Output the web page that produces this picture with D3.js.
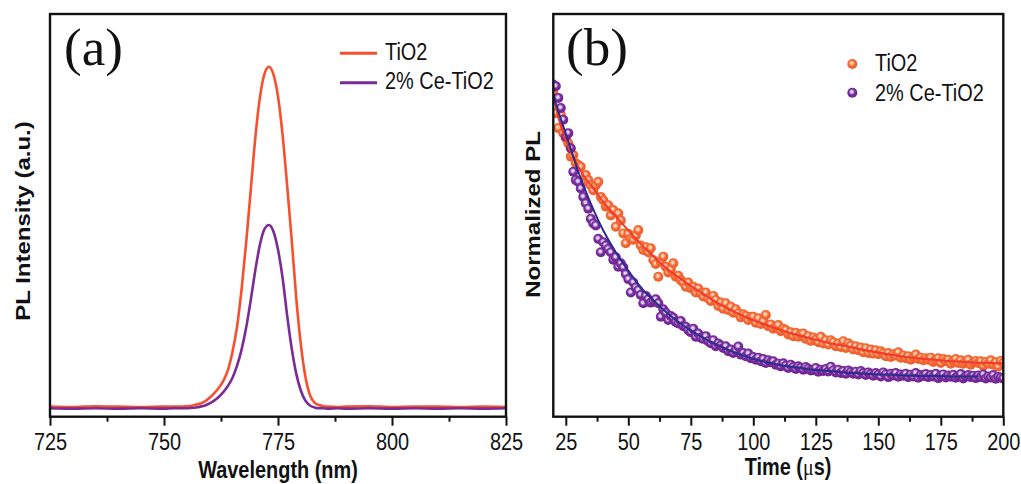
<!DOCTYPE html>
<html>
<head>
<meta charset="utf-8">
<script src="https://cdn.jsdelivr.net/npm/d3@7"></script>
<style>
  body { margin: 0; background: #fff; }
  svg { display: block; }
  text { font-family: "Liberation Sans", Arial, sans-serif; fill: #111; }
</style>
</head>
<body>
<svg id="fig" width="1021" height="484"></svg>
<script>
// ---------- (a) steady-state PL spectra ----------
const wavelength = [725, 730, 735, 740, 745, 750, 752, 754,
  755, 756, 757, 758, 759, 760, 761, 762, 763, 764, 765, 766, 767, 768, 769, 770,
  771, 772, 773, 774, 775, 776, 777, 778, 779, 780, 781, 782, 783, 784, 785,
  786, 788, 790, 795, 800, 805, 810, 815, 820, 825];
const plTiO2 = [0.025, 0.024, 0.026, 0.025, 0.024, 0.025, 0.025, 0.025,
  0.026, 0.027, 0.030, 0.033, 0.038, 0.047, 0.058, 0.071, 0.089, 0.115, 0.160, 0.222, 0.315, 0.430, 0.560, 0.690,
  0.790, 0.850, 0.869, 0.850, 0.795, 0.700, 0.575, 0.440, 0.295, 0.180, 0.100, 0.054, 0.035, 0.029, 0.026,
  0.025, 0.024, 0.025, 0.026, 0.024, 0.025, 0.025, 0.024, 0.025, 0.024];
const plCeTiO2 = [0.021, 0.020, 0.021, 0.020, 0.021, 0.020, 0.021, 0.021,
  0.021, 0.022, 0.023, 0.025, 0.028, 0.033, 0.040, 0.049, 0.061, 0.076, 0.096, 0.126, 0.166, 0.220, 0.288, 0.362,
  0.425, 0.465, 0.476, 0.460, 0.415, 0.345, 0.252, 0.170, 0.107, 0.065, 0.040, 0.028, 0.023, 0.021, 0.021,
  0.020, 0.021, 0.020, 0.021, 0.020, 0.021, 0.020, 0.021, 0.020, 0.021];
const wavelengthTicks = [725, 750, 775, 800, 825];
const wavelengthMinor = [737.5, 762.5, 787.5, 812.5];

// ---------- (b) time-resolved PL decay ----------
const time = [20, 21, 22, 23, 24, 25, 26, 27, 28, 29, 30, 31, 32, 33, 34, 35, 36, 37, 38, 39,
  40, 41, 42, 43, 44, 45, 46, 47, 48, 49, 50, 51, 52, 53, 54, 55, 56, 57, 58, 59,
  60, 61, 62, 63, 64, 65, 66, 67, 68, 69, 70, 71, 72, 73, 74, 75, 76, 77, 78, 79,
  80, 81, 82, 83, 84, 85, 86, 87, 88, 89, 90, 91, 92, 93, 94, 95, 96, 97, 98, 99,
  100, 101, 102, 103, 104, 105, 106, 107, 108, 109, 110, 111, 112, 113, 114, 115, 116, 117, 118, 119,
  120, 121, 122, 123, 124, 125, 126, 127, 128, 129, 130, 131, 132, 133, 134, 135, 136, 137, 138, 139,
  140, 141, 142, 143, 144, 145, 146, 147, 148, 149, 150, 151, 152, 153, 154, 155, 156, 157, 158, 159,
  160, 161, 162, 163, 164, 165, 166, 167, 168, 169, 170, 171, 172, 173, 174, 175, 176, 177, 178, 179,
  180, 181, 182, 183, 184, 185, 186, 187, 188, 189, 190, 191, 192, 193, 194, 195, 196, 197, 198, 199, 200];
const decayTiO2 = [
  0.965, 0.905, 0.86, 0.9, 0.845, 0.83, 0.815, 0.775, 0.78, 0.755,
  0.75, 0.745, 0.70, 0.72, 0.705, 0.69, 0.675, 0.69, 0.70, 0.655,
  0.645, 0.626, 0.63, 0.60, 0.616, 0.566, 0.606, 0.585, 0.546, 0.517,
  0.545, 0.53, 0.527, 0.54, 0.556, 0.51, 0.497, 0.505, 0.49, 0.502,
  0.467, 0.455, 0.417, 0.462, 0.477, 0.447, 0.43, 0.44, 0.457, 0.417,
  0.42, 0.407, 0.40, 0.387, 0.40, 0.383, 0.387, 0.37, 0.382, 0.368,
  0.358, 0.37, 0.352, 0.345, 0.36, 0.348, 0.33, 0.34, 0.322, 0.338,
  0.318, 0.328, 0.31, 0.32, 0.308, 0.296, 0.305, 0.30, 0.288, 0.298,
  0.298, 0.28, 0.293, 0.276, 0.285, 0.303, 0.27, 0.275, 0.262, 0.268,
  0.273, 0.255, 0.262, 0.258, 0.245, 0.252, 0.24, 0.25, 0.238, 0.246,
  0.248, 0.232, 0.24, 0.226, 0.236, 0.229, 0.222, 0.238, 0.218, 0.228,
  0.215, 0.228, 0.222, 0.21, 0.218, 0.208, 0.225, 0.205, 0.219, 0.212,
  0.2, 0.21, 0.198, 0.206, 0.192, 0.204, 0.19, 0.2, 0.188, 0.198,
  0.186, 0.195, 0.189, 0.18, 0.19, 0.178, 0.186, 0.182, 0.192, 0.176,
  0.182, 0.174, 0.18, 0.17, 0.178, 0.185, 0.172, 0.176, 0.168, 0.174,
  0.17, 0.176, 0.163, 0.169, 0.174, 0.16, 0.172, 0.166, 0.17, 0.158,
  0.166, 0.172, 0.16, 0.168, 0.158, 0.164, 0.17, 0.155, 0.162, 0.166,
  0.16, 0.165, 0.152, 0.163, 0.158, 0.168, 0.155, 0.162, 0.15, 0.166, 0.16];
const decayCeTiO2 = [
  0.99, 0.985, 0.95, 0.92, 0.885, 0.835, 0.845, 0.80, 0.73, 0.705,
  0.70, 0.68, 0.655, 0.636, 0.62, 0.59, 0.576, 0.57, 0.53, 0.49,
  0.52, 0.51, 0.50, 0.49, 0.468, 0.475, 0.447, 0.457, 0.445, 0.425,
  0.41, 0.37, 0.40, 0.385, 0.377, 0.363, 0.338, 0.36, 0.35, 0.34,
  0.345, 0.35, 0.338, 0.298, 0.32, 0.31, 0.288, 0.30, 0.295, 0.282,
  0.278, 0.285, 0.27, 0.268, 0.258, 0.252, 0.262, 0.238, 0.248, 0.235,
  0.232, 0.24, 0.225, 0.219, 0.228, 0.21, 0.218, 0.212, 0.205, 0.21,
  0.195, 0.2, 0.19, 0.198, 0.209, 0.185, 0.19, 0.18, 0.188, 0.174,
  0.178, 0.17, 0.176, 0.165, 0.172, 0.16, 0.168, 0.162, 0.165, 0.155,
  0.158, 0.15, 0.159, 0.152, 0.145, 0.155, 0.148, 0.142, 0.15, 0.146,
  0.14, 0.148, 0.143, 0.138, 0.139, 0.145, 0.134, 0.14, 0.136, 0.142,
  0.135, 0.149, 0.138, 0.132, 0.14, 0.13, 0.136, 0.128, 0.138, 0.133,
  0.128, 0.134, 0.126, 0.136, 0.13, 0.124, 0.132, 0.127, 0.122, 0.13,
  0.125, 0.12, 0.132, 0.126, 0.118, 0.128, 0.123, 0.13, 0.119, 0.126,
  0.122, 0.128, 0.118, 0.125, 0.12, 0.13, 0.116, 0.124, 0.121, 0.127,
  0.118, 0.124, 0.12, 0.128, 0.115, 0.122, 0.126, 0.117, 0.123, 0.119,
  0.125, 0.116, 0.121, 0.127, 0.114, 0.12, 0.124, 0.118, 0.122, 0.115,
  0.123, 0.118, 0.126, 0.114, 0.12, 0.117, 0.124, 0.113, 0.119, 0.116, 0.114];
// exponential fit curves, sampled
const fitTime = [20, 22, 24, 26, 28, 30, 32, 35, 38, 40, 45, 50, 55, 60, 65, 70, 75, 80, 85, 90,
  95, 100, 105, 110, 115, 120, 125, 130, 135, 140, 145, 150, 155, 160, 165, 170, 175, 180, 185, 190, 195, 200];
const fitTiO2 = [0.955, 0.895, 0.845, 0.805, 0.775, 0.745, 0.72, 0.69, 0.66, 0.64, 0.597, 0.555, 0.515, 0.478, 0.444, 0.416, 0.39, 0.366, 0.342, 0.321,
  0.304, 0.287, 0.274, 0.261, 0.249, 0.239, 0.229, 0.220, 0.213, 0.206, 0.198, 0.191, 0.185, 0.179, 0.175, 0.171, 0.168, 0.165, 0.163, 0.161, 0.160, 0.159];
const fitCeTiO2 = [0.96, 0.91, 0.865, 0.82, 0.775, 0.73, 0.69, 0.635, 0.585, 0.555, 0.49, 0.435, 0.385, 0.347, 0.313, 0.283, 0.257, 0.235, 0.216, 0.199,
  0.185, 0.172, 0.163, 0.155, 0.149, 0.144, 0.139, 0.136, 0.133, 0.130, 0.128, 0.126, 0.125, 0.123, 0.122, 0.121, 0.121, 0.120, 0.120, 0.120];
const timeTicks = [25, 50, 75, 100, 125, 150, 175, 200];
const timeMinor = [37.5, 62.5, 87.5, 112.5, 137.5, 162.5, 187.5];

const seriesNames = ["TiO2", "2% Ce-TiO2"];

// ---------- drawing ----------
const SX = 0.83;              // horizontal condensing of the lettering
const svg = d3.select("#fig");
const defs = svg.append("defs");

function ballGradient(id, light, base, dark) {
  const g = defs.append("radialGradient").attr("id", id)
    .attr("cx", "45%").attr("cy", "42%").attr("r", "60%");
  g.append("stop").attr("offset", "0%").attr("stop-color", light);
  g.append("stop").attr("offset", "18%").attr("stop-color", light);
  g.append("stop").attr("offset", "50%").attr("stop-color", base);
  g.append("stop").attr("offset", "100%").attr("stop-color", dark);
}
ballGradient("ballRed", "#fcd0b8", "#f36a33", "#ec5a2b");
ballGradient("ballPurple", "#dcd8f4", "#7a2c9c", "#6c2290");

const colRedA = "#f6502e", colPurA = "#7a2b95";
const colFitRed = "#f23a2c", colFitNavy = "#2b2d8e";

function condensed(g, x, y, txt, opts = {}) {
  const t = g.append("text")
    .attr("transform", `translate(${x},${y}) scale(${SX},1)` + (opts.rotate ? ` rotate(${opts.rotate})` : ""))
    .attr("text-anchor", opts.anchor || "start")
    .attr("font-size", opts.size || 24)
    .attr("font-weight", opts.bold ? "bold" : "normal")
    .text(txt);
  return t;
}

function xAxes(g, scale, major, minor, y0) {
  const ax = g.append("g").attr("transform", `translate(0,${y0})`)
    .call(d3.axisBottom(scale).tickValues(major).tickSize(9).tickPadding(7));
  ax.select(".domain").remove();
  ax.selectAll(".tick line").attr("stroke", "#111").attr("stroke-width", 2);
  ax.selectAll(".tick text")
    .attr("font-family", "'Liberation Sans', Arial, sans-serif")
    .attr("font-size", 24).attr("fill", "#111")
    .attr("transform", `scale(${SX},1)`);
  const mi = g.append("g").attr("transform", `translate(0,${y0})`)
    .call(d3.axisBottom(scale).tickValues(minor).tickSize(5).tickFormat(""));
  mi.select(".domain").remove();
  mi.selectAll(".tick line").attr("stroke", "#111").attr("stroke-width", 2);
}

// ===== panel (a) =====
const xA = d3.scaleLinear().domain([725, 825]).range([50, 506]);
const yA = d3.scaleLinear().domain([0, 1]).range([416.7, 14]);
const gA = svg.append("g");

const specLine = d3.line().x(d => xA(d[0])).y(d => yA(d[1])).curve(d3.curveMonotoneX);
gA.append("path").datum(wavelength.map((w, i) => [w, plTiO2[i]]))
  .attr("d", specLine).attr("fill", "none").attr("stroke", colRedA).attr("stroke-width", 2.6);
gA.append("path").datum(wavelength.map((w, i) => [w, plCeTiO2[i]]))
  .attr("d", specLine).attr("fill", "none").attr("stroke", colPurA).attr("stroke-width", 2.6);

gA.append("rect").attr("x", 50).attr("y", 14).attr("width", 456).attr("height", 402.7)
  .attr("fill", "none").attr("stroke", "#111").attr("stroke-width", 2.4);
xAxes(gA, xA, wavelengthTicks, wavelengthMinor, 416.7);

condensed(gA, 278, 478, "Wavelength (nm)", { anchor: "middle", bold: true });
condensed(gA, 29.5, 221, "PL Intensity (a.u.)", { anchor: "middle", bold: true, rotate: -90 });
gA.append("text").attr("x", 64).attr("y", 65).attr("font-size", 53)
  .style("font-family", "'Liberation Serif', 'Times New Roman', serif").text("(a)");

// legend (a)
[colRedA, colPurA].forEach((c, i) => {
  const ly = 53.3 + i * 29.4;
  gA.append("line").attr("x1", 340).attr("x2", 377).attr("y1", ly).attr("y2", ly)
    .attr("stroke", c).attr("stroke-width", 3);
  condensed(gA, 385, 60 + i * 29, seriesNames[i]);
});

// ===== panel (b) =====
const xB = d3.scaleLinear().domain([20, 200]).range([553.3, 1003.3]);
const yB = d3.scaleLinear().domain([0, 1.2]).range([416.7, 14]);
const gB = svg.append("g");

gB.append("defs").append("clipPath").attr("id", "clipB")
  .append("rect").attr("x", 553.3).attr("y", 14).attr("width", 450).attr("height", 402.7);
const plotB = gB.append("g").attr("clip-path", "url(#clipB)");

plotB.selectAll("circle.tio2").data(time.map((t, i) => [t, decayTiO2[i]])).join("circle")
  .attr("class", "tio2").attr("cx", d => xB(d[0])).attr("cy", d => yB(d[1])).attr("r", 5)
  .attr("fill", "url(#ballRed)");
plotB.selectAll("circle.ce").data(time.map((t, i) => [t, decayCeTiO2[i]])).join("circle")
  .attr("class", "ce").attr("cx", d => xB(d[0])).attr("cy", d => yB(d[1])).attr("r", 5)
  .attr("fill", "url(#ballPurple)");

const fitLine = d3.line().x(d => xB(d[0])).y(d => yB(d[1])).curve(d3.curveMonotoneX);
plotB.append("path").datum(fitTiO2.map((v, i) => [fitTime[i], v]))
  .attr("d", fitLine).attr("fill", "none").attr("stroke", colFitRed).attr("stroke-width", 2);
plotB.append("path").datum(fitCeTiO2.map((v, i) => [fitTime[i], v]))
  .attr("d", fitLine).attr("fill", "none").attr("stroke", colFitNavy).attr("stroke-width", 2);

gB.append("rect").attr("x", 553.3).attr("y", 14).attr("width", 450).attr("height", 402.7)
  .attr("fill", "none").attr("stroke", "#111").attr("stroke-width", 2.4);
xAxes(gB, xB, timeTicks, timeMinor, 416.7);

const tTitle = condensed(gB, 788, 475, "Time (", { anchor: "middle", bold: true });
tTitle.append("tspan").attr("font-weight", "normal")
  .style("font-family", "'Liberation Serif', 'Times New Roman', serif").text("\u03bc");
tTitle.append("tspan").text("s)");
condensed(gB, 539.5, 214.5, "Normalized PL", { anchor: "middle", bold: true, rotate: -90 });
gB.append("text").attr("x", 566).attr("y", 65).attr("font-size", 53)
  .style("font-family", "'Liberation Serif', 'Times New Roman', serif").text("(b)");

// legend (b)
["url(#ballRed)", "url(#ballPurple)"].forEach((f, i) => {
  gB.append("circle").attr("cx", 852.3).attr("cy", 64 + i * 28.7).attr("r", 5).attr("fill", f);
  condensed(gB, 875, 71 + i * 30, seriesNames[i]);
});
</script>
</body>
</html>
